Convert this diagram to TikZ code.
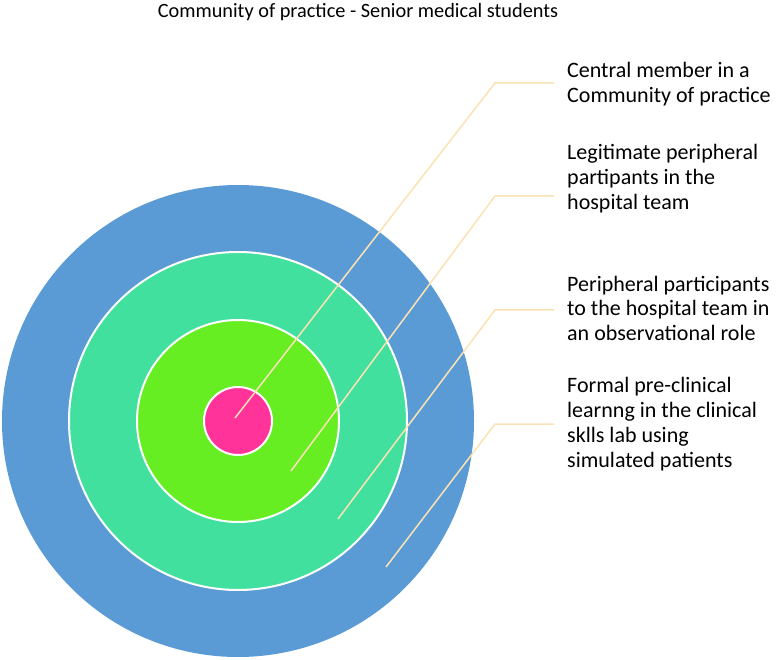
\documentclass[tikz,border=0pt]{standalone}
\usepackage{fontspec}
\setmainfont{Carlito}
\definecolor{ringblue}{HTML}{5B9BD5}
\definecolor{ringteal}{HTML}{42E09E}
\definecolor{ringlime}{HTML}{66EE22}
\definecolor{ringpink}{HTML}{FF3399}
\definecolor{leader}{HTML}{FBE2B4}
\begin{document}
\begin{tikzpicture}[x=1pt,y=-1pt,
  ring/.style={draw=white,line width=2pt},
  leaderline/.style={draw=leader,line width=1.5pt},
  lbl/.style={anchor=base west,align=left,inner sep=0pt,font=\fontsize{22}{25}\selectfont}]
\useasboundingbox (0,0) rectangle (779,660);
\node[inner sep=0pt,anchor=base,font=\fontsize{20.3}{24}\selectfont] (title) at (358,18) {Community of practice - Senior medical students};
\fill[ringblue] (238,421) circle (236);
\path[ring,fill=ringteal] (238,421) circle (169);
\path[ring,fill=ringlime] (238,421) circle (101);
\path[ring,fill=ringpink] (238,421) circle (34);
\coordinate (s1) at (235,418);
\coordinate (s2) at (291,471);
\coordinate (s3) at (338,519);
\coordinate (s4) at (386,567);
\coordinate (e1) at (554,83);
\coordinate (e2) at (554,196);
\coordinate (e3) at (554,310);
\coordinate (e4) at (554,424);
\draw[leaderline] (s1) -- (495,83) -- (e1);
\draw[leaderline] (s2) -- (495,196) -- (e2);
\draw[leaderline] (s3) -- (495,310) -- (e3);
\draw[leaderline] (s4) -- (495,424) -- (e4);
\node[lbl] (l1) at (567,103) {Central member in a\\Community of practice};
\node[lbl] (l2) at (567,210) {Legitimate peripheral\\partipants in the\\hospital team};
\node[lbl] (l3) at (567,341) {Peripheral participants\\to the hospital team in\\an observational role};
\node[lbl] (l4) at (567,467) {Formal pre-clinical\\learnng in the clinical\\sklls lab using\\simulated patients};
\end{tikzpicture}
\end{document}
